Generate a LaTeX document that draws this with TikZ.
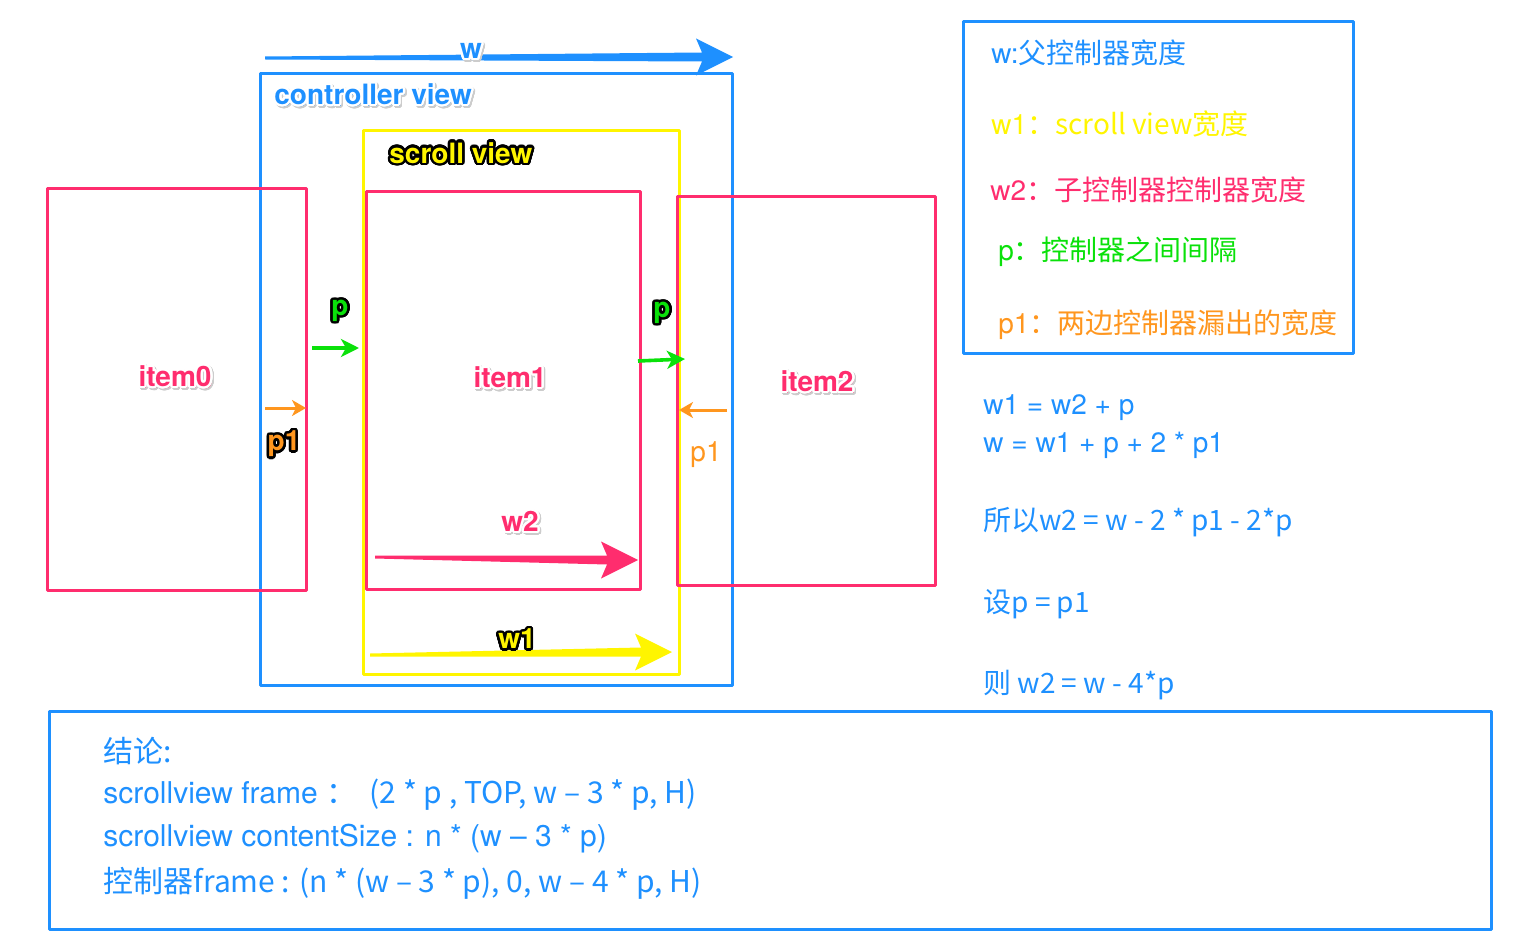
\documentclass[tikz,border=0pt]{standalone}
\usepackage{fontspec}
\setmainfont{TeX Gyre Heros}
\newfontfamily\cjk{Noto Sans CJK SC}
\usepackage[copies]{contour}
\usetikzlibrary{arrows.meta, calc}

\definecolor{ctrlblue}{RGB}{30,144,255}
\definecolor{itempink}{RGB}{255,45,110}
\definecolor{scrollyellow}{RGB}{255,245,0}
\definecolor{gapgreen}{RGB}{10,225,10}
\definecolor{edgeorange}{RGB}{255,150,30}

\contournumber{32}
\newcommand{\hardlabel}[1]{\contourlength{1.2pt}\contour{black}{#1}}
\newcommand{\softlabel}[1]{\contourlength{1.1pt}%
    \makebox[0pt][l]{\hspace{0.8pt}\raisebox{-0.8pt}{\contour{black!20}{#1}}}\contour{white}{#1}}
% fat measuring arrow: colour, tail, tip
\newcommand{\taperarrow}[3]{%
    \fill[#1] ($(#2)+(0,-1.5)$) -- ($(#3)+(-31,-4.5)$) -- ($(#3)+(-37,-18.5)$) -- (#3)
        -- ($(#3)+(-37,18.5)$) -- ($(#3)+(-31,4.5)$) -- ($(#2)+(0,1.5)$) -- cycle;}

\begin{document}
\begin{tikzpicture}[x=0.5pt, y=-0.5pt]
    \tikzstyle{frame}=[line width=1.5pt, line join=round]
    \tikzstyle{itembox}=[frame, draw=itempink]
    \tikzstyle{txt}=[anchor=west, inner sep=0pt, font=\fontsize{14}{17}\selectfont]
    \tikzstyle{note}=[anchor=west, inner sep=0pt, text=ctrlblue, font=\fontsize{15}{18}\selectfont]
    \tikzstyle{tag}=[inner sep=0pt, font=\bfseries\fontsize{14}{17}\selectfont]
    \tikzstyle{gaparrow}=[draw=gapgreen, line width=1.8pt, -{Stealth[length=9pt, width=9pt, inset=2.5pt]}]
    \tikzstyle{edgearrow}=[draw=edgeorange, line width=1.5pt, -{Stealth[length=7pt, width=8pt, inset=2pt]}]

    \useasboundingbox (0,0) rectangle (1514,941);

    % boxes
    \draw[frame, draw=ctrlblue] (260,74) rectangle (732,685);
    \draw[frame, draw=scrollyellow] (363,131) rectangle (679,674);
    \foreach \xa/\ya/\xb/\yb in {47/189/306/590, 366/192/640/589, 677/197/935/585}
        \draw[itembox] (\xa,\ya) rectangle (\xb,\yb);
    \draw[frame, draw=ctrlblue] (963,22) rectangle (1353,353);
    \draw[frame, draw=ctrlblue] (49,711) rectangle (1491,929);

    % widths
    \coordinate (wTail) at (265,58);
    \coordinate (wTip) at (733,57);
    \coordinate (w2Tail) at (375,557);
    \coordinate (w2Tip) at (638,560);
    \coordinate (w1Tail) at (370,655);
    \coordinate (w1Tip) at (672,652);
    \taperarrow{ctrlblue}{wTail}{wTip}
    \taperarrow{itempink}{w2Tail}{w2Tip}
    \taperarrow{scrollyellow}{w1Tail}{w1Tip}

    % gaps
    \coordinate (gapL0) at (312,348);
    \coordinate (gapL1) at (359,348);
    \coordinate (gapR0) at (638,361);
    \coordinate (gapR1) at (685,359);
    \coordinate (edgeL0) at (265,408);
    \coordinate (edgeL1) at (306,408);
    \coordinate (edgeR0) at (727,410);
    \coordinate (edgeR1) at (679,410);
    \draw[gaparrow] (gapL0) -- (gapL1);
    \draw[gaparrow] (gapR0) -- (gapR1);
    \draw[edgearrow] (edgeL0) -- (edgeL1);
    \draw[edgearrow] (edgeR0) -- (edgeR1);

    % labels
    \node[tag, text=ctrlblue] (w) at (471,53) {\softlabel{w}};
    \node[tag, text=ctrlblue, anchor=west] (ctrl) at (274,96) {\softlabel{controller view}};
    \node[tag, text=scrollyellow, anchor=west] (scroll) at (389,154) {\hardlabel{scroll view}};
    \node[tag, text=itempink] (item0) at (175,378) {\softlabel{item0}};
    \node[tag, text=itempink] (item1) at (510,379) {\softlabel{item1}};
    \node[tag, text=itempink] (item2) at (817,383) {\softlabel{item2}};
    \node[tag, text=itempink] (w2) at (520,523) {\softlabel{w2}};
    \node[tag, text=scrollyellow] (w1) at (517,640) {\hardlabel{w1}};
    \node[tag, text=gapgreen] (pL) at (340,312) {\hardlabel{p}};
    \node[tag, text=gapgreen] (pR) at (662,314) {\hardlabel{p}};
    \node[tag, text=edgeorange] (p1L) at (284,445) {\hardlabel{p1}};
    \node[txt, anchor=center, text=edgeorange] (p1R) at (706,455) {p1};

    % legend
    \node[txt, text=ctrlblue] (keyW) at (991,53) {w:\cjk{父控制器宽度}};
    \node[txt, text=scrollyellow] (keyW1) at (991,124) {w1\cjk{：}scroll view\cjk{宽度}};
    \node[txt, text=itempink] (keyW2) at (990,190) {w2\cjk{：子控制器控制器宽度}};
    \node[txt, text=gapgreen] (keyP) at (998,252) {p\cjk{：控制器之间间隔}};
    \node[txt, text=edgeorange] (keyP1) at (998,325) {p1\cjk{：两边控制器漏出的宽度}};

    % formulas
    \node[txt, text=ctrlblue] (eq1) at (983,408) {w1 = w2 + p};
    \node[txt, text=ctrlblue] (eq2) at (983,445) {w = w1 + p + 2 * p1};
    \node[txt, text=ctrlblue] (eq3) at (983,522) {\cjk{所以}w2 = w - 2 * p1 - 2*p};
    \node[txt, text=ctrlblue] (eq4) at (983,604) {\cjk{设}p = p1};
    \node[txt, text=ctrlblue] (eq5) at (983,685) {\cjk{则} w2 = w - 4*p};

    % conclusion
    \node[note] (sum0) at (103,751) {\cjk{结论}:};
    \node[note] (sum1) at (103,795) {scrollview frame \cjk{：}\ \ (2 * p , TOP, w – 3 * p, H)};
    \node[note] (sum2) at (103,839) {scrollview contentSize : n * (w – 3 * p)};
    \node[note] (sum3) at (103,883) {\cjk{控制器}frame : (n * (w – 3 * p), 0, w – 4 * p, H)};
\end{tikzpicture}
\end{document}
